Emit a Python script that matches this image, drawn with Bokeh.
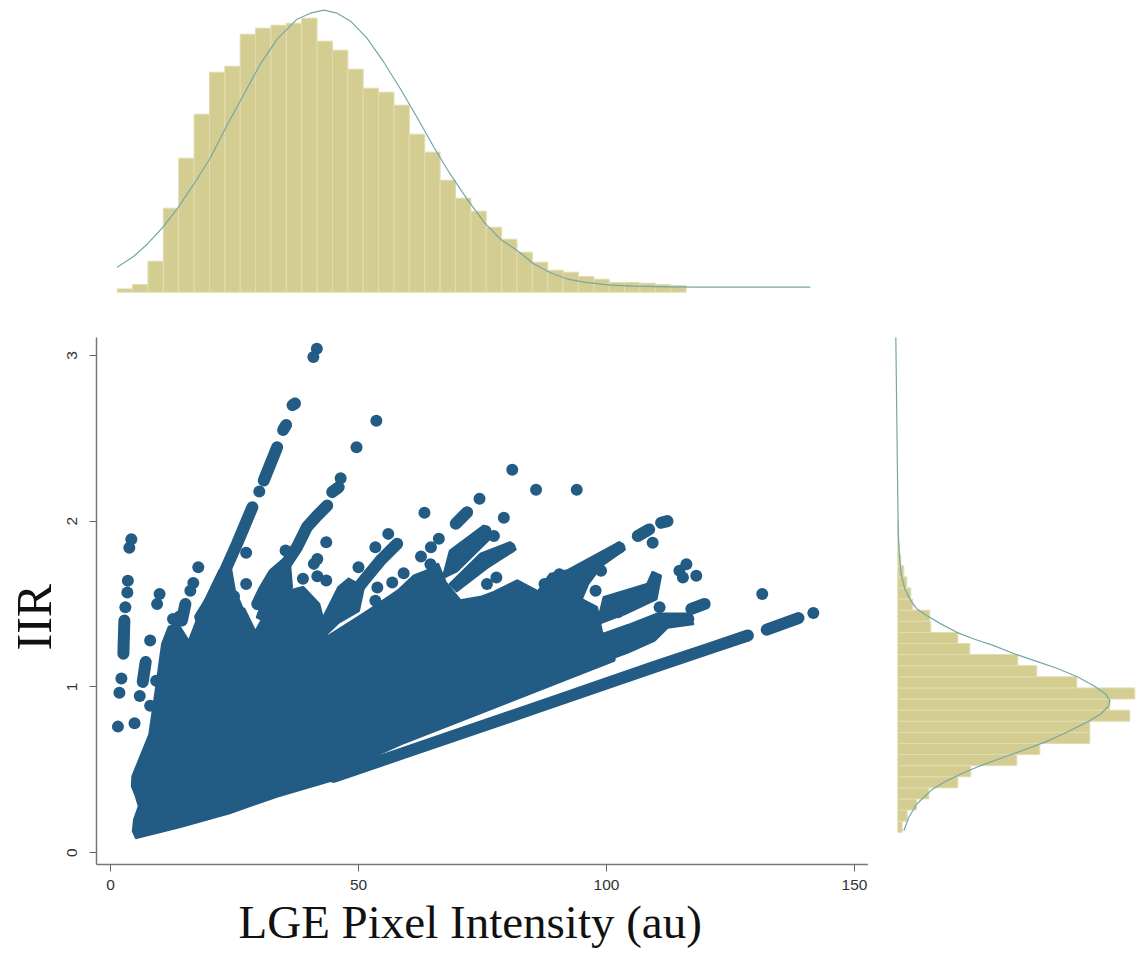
from bokeh.plotting import figure
from bokeh.layouts import column, row
from bokeh.models import Range1d, FixedTicker, Title
from bokeh.embed import file_html
from bokeh.resources import INLINE

BLUE = "#225b84"
SAND = "#d3cd92"
SAND_EDGE = "#e2dcb0"
TEAL = "#74a7a5"

# top histogram: LGE pixel intensity (au) against height
top_bin_centers = [2.9, 6.0, 9.1, 12.2, 15.3, 18.4, 21.5, 24.6, 27.7, 30.8, 33.9, 37.0, 40.1, 43.2, 46.3, 49.4,
                   52.5, 55.6, 58.7, 61.8, 64.9, 68.0, 71.1, 74.2, 77.3, 80.4, 83.5, 86.6, 89.7, 92.8, 95.9,
                   99.0, 102.1, 105.2, 108.3, 111.4, 114.5]
top_bin_heights = [3.3, 7.7, 31, 84, 134, 178, 220, 226, 258, 264, 267, 269, 274, 251, 242, 223, 204, 200, 187,
                   158, 140, 112, 94, 81, 65, 53, 40, 30, 22, 20, 15.7, 13, 9.7, 9.7, 9, 7.7, 6.7]
top_curve_x = [1.34, 4.7, 7.4, 10.4, 13.4, 16.8, 20.2, 23.5, 26.9, 30.2, 33.6, 37.6, 40.3, 43, 45.7, 48.4, 51.7,
               55.1, 58.5, 61.8, 65.2, 68.5, 71.9, 75.3, 78.6, 82, 85.3, 88.7, 92, 95.4, 100.8, 105.5, 112.2,
               118.9, 141.1]
top_curve_y = [25, 36, 48, 64, 83, 108, 135, 167, 198, 228, 253, 273, 279, 282, 279, 271, 254, 230, 203, 175,
               145, 118, 93, 70, 53, 41.7, 28.4, 19.4, 13.4, 10, 7, 6, 5.4, 5, 5]

# right histogram: IIR against width
right_bin_centers = [0.156, 0.223, 0.290, 0.357, 0.424, 0.491, 0.558, 0.625, 0.692, 0.759, 0.826, 0.893, 0.960,
                     1.027, 1.094, 1.161, 1.228, 1.295, 1.362, 1.429, 1.496, 1.563, 1.630, 1.697, 1.764, 1.831,
                     1.898, 1.965]
right_bin_widths = [4.3, 9.3, 18.7, 31, 60, 73, 119, 142, 192, 192, 232, 212, 237, 179, 139, 120, 72, 60, 33, 32,
                    15, 13, 9, 6, 3, 1.3, 0.7, 0.3]
right_curve_y = [0.132, 0.213, 0.293, 0.374, 0.424, 0.474, 0.525, 0.575, 0.619, 0.671, 0.726, 0.786, 0.836, 0.887,
                 0.917, 0.957, 1.007, 1.062, 1.112, 1.154, 1.194, 1.249, 1.289, 1.329, 1.38, 1.43, 1.47, 1.52,
                 1.591, 1.681, 1.782, 1.923, 2.124, 3.12]
right_curve_x = [6, 11, 19, 33, 46, 63, 83, 106, 126, 149, 169, 189, 203, 211, 212, 208, 196, 179, 159, 139, 119,
                 96, 76, 59, 43, 29, 19, 13, 7, 3.3, 1.7, 0.5, 0, -2]

# scatter: the dense body of points, read as outlines (LGE, IIR)
body_x = [
    [5.2, 4.6, 4.85, 5.8, 5.2, 4.4, 4.5, 7.9, 9.3, 10.5, 11.8, 13.5, 15.8, 18.1, 20, 26.9, 29.2, 31.6, 36.3, 38.8,
     42, 43.7, 50, 53.1, 58, 61.2, 63.8, 66, 67.5, 70.5, 74.6, 77.3, 82, 86.4, 89.4, 92.1, 94.8, 98, 99, 101.8,
     101.5, 58.4, 50, 45, 33.5, 24, 13.9],
    [43, 46, 48, 51, 50, 46, 43.9],
    [18, 22, 24, 25, 26.9, 19],
    [29.6, 33, 36, 36.5, 31],
    [67.1, 68.5, 75.2, 76.6, 72.5, 69.8],
    [68.5, 74.6, 80.6, 81.6, 75.9, 69.8],
    [98.2, 99.5, 108.3, 109.3, 110.9, 110, 103.6, 101.6],
    [98.9, 99.5, 104.3, 110.3, 116.4, 117.4, 112.3, 109.6, 104.3, 101.6],
    [86.4, 88.7, 92.1, 102.6, 103.6, 98.9, 96.2, 94.8, 90.1],
]
body_y = [
    [0.09, 0.13, 0.2, 0.28, 0.34, 0.40, 0.46, 0.71, 1.0, 1.26, 1.36, 1.38, 1.27, 1.45, 1.5, 1.47, 1.33, 1.46, 1.58,
     1.6, 1.5, 1.30, 1.42, 1.48, 1.58, 1.67, 1.70, 1.74, 1.63, 1.52, 1.54, 1.57, 1.64, 1.57, 1.63, 1.58, 1.53,
     1.48, 1.33, 1.21, 1.16, 0.655, 0.54, 0.44, 0.34, 0.24, 0.155],
    [1.42, 1.6, 1.65, 1.6, 1.46, 1.39, 1.33],
    [1.45, 1.7, 1.75, 1.58, 1.45, 1.3],
    [1.42, 1.7, 1.78, 1.6, 1.4],
    [1.66, 1.82, 1.97, 1.90, 1.78, 1.70],
    [1.62, 1.80, 1.87, 1.83, 1.72, 1.58],
    [1.38, 1.54, 1.62, 1.69, 1.67, 1.53, 1.44, 1.42],
    [1.28, 1.32, 1.37, 1.44, 1.44, 1.38, 1.36, 1.28, 1.21, 1.18],
    [1.58, 1.68, 1.70, 1.87, 1.83, 1.73, 1.62, 1.52, 1.48],
]

# scatter: runs of overlapping points along rays (LGE, IIR)
run_x = [
    [18.1, 20.2, 22.8, 25.5, 28.6],
    [30.9, 33.6],
    [34.8, 35.4],
    [36.7, 37.2],
    [29.6, 30.9, 32.9, 35.6, 37.6, 39.6, 41.7, 43.7],
    [44.7, 46.0],
    [48.4, 51.1, 54.4, 57.8],
    [2.8, 2.6],
    [7.1, 6.5],
    [14.4, 15.1],
    [69.6, 71.9],
    [117.1, 119.8],
    [106.3, 108.6],
    [111, 112.3],
    [45, 58.4, 85.4, 109.6, 121.1, 128.5],
    [132.3, 138.7],
]
run_y = [
    [1.42, 1.52, 1.682, 1.863, 2.084],
    [2.245, 2.446],
    [2.55, 2.58],
    [2.70, 2.71],
    [1.5, 1.581, 1.682, 1.752, 1.843, 1.964, 2.034, 2.094],
    [2.175, 2.205],
    [1.54, 1.642, 1.762, 1.863],
    [1.40, 1.20],
    [1.15, 1.03],
    [1.40, 1.50],
    [1.984, 2.054],
    [1.47, 1.50],
    [1.91, 1.95],
    [1.99, 2.0],
    [0.457, 0.594, 0.87, 1.12, 1.235, 1.31],
    [1.345, 1.415],
]

# scatter: separate points (LGE, IIR)
point_x = [41.6, 40.9, 30.0, 53.6, 49.6, 46.4, 4.2, 3.8, 3.5, 3.4, 3.0, 2.2, 1.8, 1.5, 4.85, 5.9, 8.0, 8.0, 9.9, 9.4,
           9.2, 17.7, 16.7, 16.1, 13.9, 12.6, 27.35, 27.35, 24.9, 35.3, 43.5, 41.7, 41.0, 38.8, 41.7, 43.5, 56.0,
           53.4, 50.0, 59.1, 63.3, 66.2, 64.6, 62.6, 64.5, 74.4, 56.8, 53.8, 53.4, 81.0, 85.8, 94.0, 79.3, 77.3,
           77.8, 75.9, 98.9, 97.8, 95.1, 109.3, 116.1, 114.7, 115.4, 118.1, 131.4, 141.7, 110.7, 102.3,
           75.6, 80.5, 102.6, 116.5, 113.5, 109.8, 72.4, 68.6, 90.5, 87.5]
point_y = [3.04, 2.99, 2.179, 2.605, 2.446, 2.259, 1.89, 1.84, 1.64, 1.57, 1.48, 1.05, 0.965, 0.76, 0.78, 0.945,
           0.886, 1.28, 1.56, 1.50, 1.037, 1.722, 1.626, 1.58, 1.425, 1.41, 1.809, 1.62, 1.547, 1.823, 1.873, 1.772,
           1.742, 1.652, 1.668, 1.642, 1.923, 1.843, 1.722, 1.686, 2.05, 1.893, 1.843, 1.786, 1.74, 2.135, 1.63,
           1.60, 1.52, 2.31, 2.19, 2.19, 2.02, 1.91, 1.66, 1.62, 1.70, 1.58, 1.63, 1.87, 1.74, 1.70, 1.66, 1.67,
           1.56, 1.445, 1.48, 1.45,
           1.94, 1.84, 1.84, 1.41, 1.40, 1.65, 1.86, 1.72, 1.68, 1.62]

x_ticks = [0, 50, 100, 150]
y_ticks = [0, 1, 2, 3]
x_title = "LGE Pixel Intensity (au)"
y_title = "IIR"


def bare(p):
    p.axis.visible = False
    p.grid.visible = False
    p.outline_line_color = None
    p.background_fill_color = None
    p.border_fill_color = None


top = figure(width=1139, height=320, output_backend="svg", toolbar_location=None,
             x_range=Range1d(-22.18, 207.46), y_range=Range1d(-28.3, 291.7),
             min_border=0, min_border_left=0, min_border_right=0, min_border_top=0, min_border_bottom=0)
bare(top)
top.vbar(x=top_bin_centers, top=top_bin_heights, bottom=0, width=3.1,
         fill_color=SAND, line_color=SAND_EDGE, line_width=1)
top.line(top_curve_x, top_curve_y, line_color=TEAL, line_width=1.2)

main = figure(width=868, height=634, output_backend="svg", toolbar_location=None,
              x_range=Range1d(-2.82, 152.82), y_range=Range1d(-0.072, 3.108),
              min_border_left=96, min_border_right=0, min_border_top=17, min_border_bottom=90)
main.grid.visible = False
main.outline_line_color = None
main.patches(body_x, body_y, fill_color=BLUE, line_color=BLUE, line_width=3, line_join="round")
main.multi_line(run_x, run_y, line_color=BLUE, line_width=12, line_cap="round", line_join="round")
main.scatter(point_x, point_y, size=12, fill_color=BLUE, line_color=None)
for ax, ticks in ((main.xaxis[0], x_ticks), (main.yaxis[0], y_ticks)):
    ax.ticker = FixedTicker(ticks=ticks)
    ax.minor_tick_line_color = None
    ax.major_tick_in = 0
    ax.major_tick_out = 7
    ax.major_tick_line_color = "#666666"
    ax.axis_line_color = "#777777"
    ax.axis_line_width = 1.5
    ax.major_label_text_font = "Liberation Sans"
    ax.major_label_text_font_size = "15.5px"
    ax.major_label_text_color = "#333333"
main.xaxis[0].major_label_standoff = 8
main.yaxis[0].major_label_standoff = 12
main.yaxis[0].major_label_orientation = "vertical"

main.add_layout(Title(text=x_title, align="left", offset=142, standoff=3, text_font="Liberation Serif",
                      text_font_style="normal", text_font_size="47px", text_color="#111111"), "below")
main.add_layout(Title(text=y_title, align="left", offset=214, standoff=6, text_font="Liberation Serif",
                      text_font_style="normal", text_font_size="50px", text_color="#111111"), "left")

right = figure(width=271, height=634, output_backend="svg", toolbar_location=None,
               x_range=Range1d(-29.3, 241.7), y_range=Range1d(-0.072, 3.108),
               min_border_left=0, min_border_right=0, min_border_top=17, min_border_bottom=90)
bare(right)
right.hbar(y=right_bin_centers, right=right_bin_widths, left=0, height=0.067,
           fill_color=SAND, line_color=SAND_EDGE, line_width=1)
right.line(right_curve_x, right_curve_y, line_color=TEAL, line_width=1.2)

page = column(top, row(main, right, spacing=0), spacing=0)
open("out.html", "w").write(file_html(page, INLINE))
